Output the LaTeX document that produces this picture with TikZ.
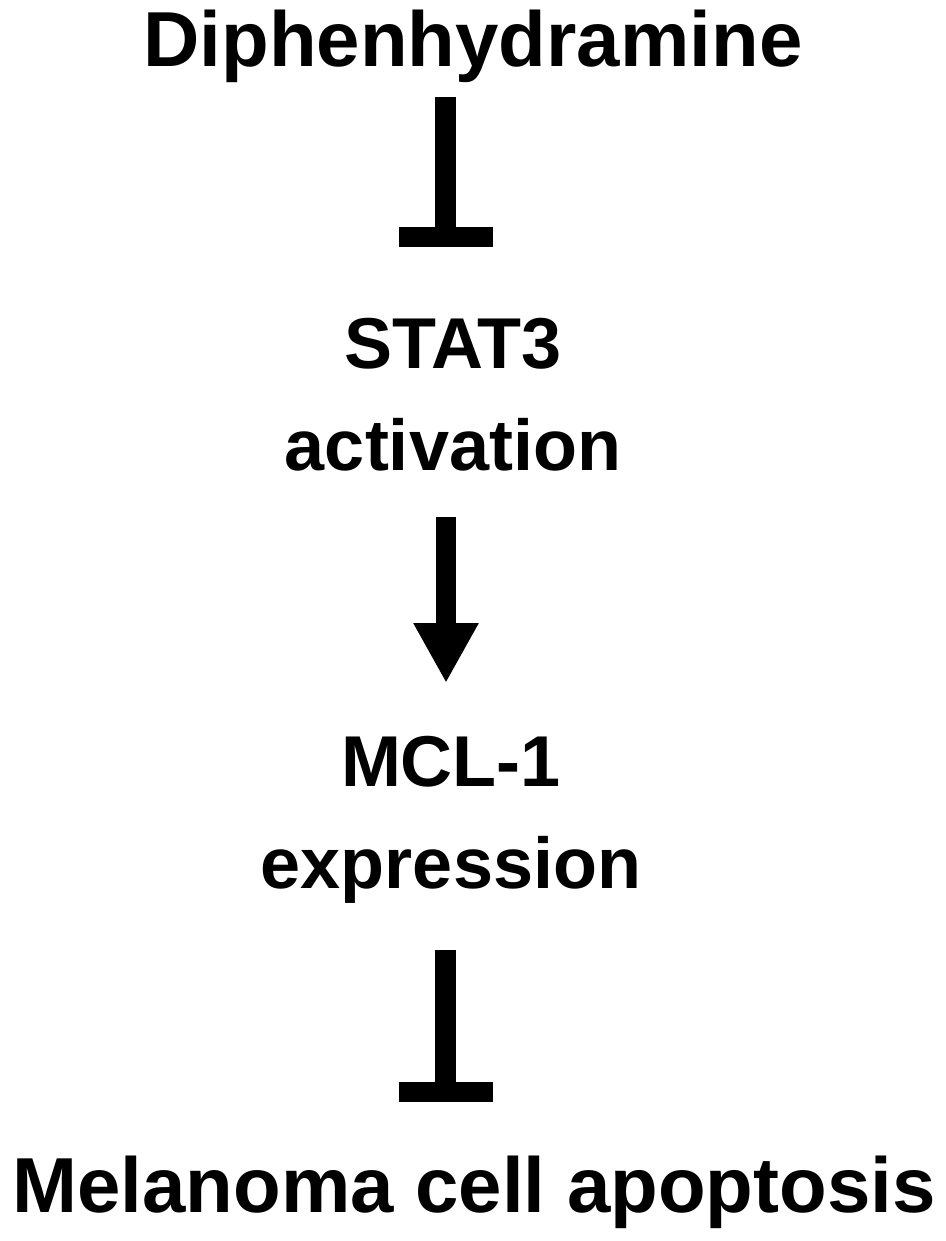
\documentclass[tikz,border=0pt]{standalone}
\usepackage{fontspec}
\setmainfont{Liberation Sans}
\usetikzlibrary{arrows.meta}

\begin{document}
\begin{tikzpicture}[x=1pt, y=1pt]
        \tikzset{every node/.style = {inner sep=0pt, anchor=base, font=\bfseries},
                 big/.style = {font=\fontsize{78}{80}\selectfont\bfseries},
                 mid/.style = {align=center, font=\fontsize{72}{102}\selectfont\bfseries},
                 inhibit/.style = {line width=21pt, -{Bar[width=94pt, line width=20pt]}},
                 promote/.style = {line width=20pt, -{Triangle[width=61pt, length=60pt]}}}

        \useasboundingbox (0, 0) rectangle (945, -1241);

        \node[big] (drug) at (473, -67) {Diphenhydramine};
        \node[mid] (stat) at (453, -470) {STAT3\\activation};
        \node[mid] (mcl) at (451, -888) {MCL-1\\expression};
        \node[big] (apop) at (474, -1212) {Melanoma cell apoptosis};

        \coordinate (t1a) at (445.5, -97);
        \coordinate (t1b) at (445.5, -247);
        \coordinate (ar1a) at (446, -517);
        \coordinate (ar1b) at (446, -683);
        \coordinate (t2a) at (445.5, -950);
        \coordinate (t2b) at (445.5, -1102);

        \draw[inhibit] (t1a) -- (t1b);
        \draw[promote] (ar1a) -- (ar1b);
        \draw[inhibit] (t2a) -- (t2b);

    \end{tikzpicture}
\end{document}
